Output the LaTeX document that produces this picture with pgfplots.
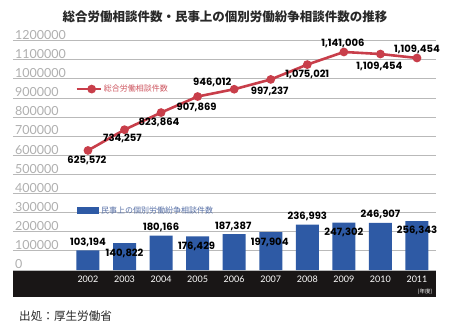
\documentclass[border=0pt]{standalone}
\usepackage{pgfplots}
\pgfplotsset{compat=1.18}
\usepackage{pgfplotstable}
\usepackage{fontspec}
\setmainfont{Lato}
\newfontfamily\jp{Noto Sans CJK JP}
\newfontfamily\pop{Poppins}
\newfontfamily\lat{Lato}
\definecolor{linered}{RGB}{200,62,74}
\definecolor{redtext}{RGB}{205,85,95}
\definecolor{barblue}{RGB}{46,90,165}
\definecolor{bluetext}{RGB}{85,110,165}
\definecolor{gridgray}{RGB}{185,185,185}
\definecolor{ticktext}{RGB}{175,175,175}
\definecolor{band}{RGB}{25,22,22}
\definecolor{titlegray}{RGB}{40,40,40}

\pgfplotstableread{
x y label dx dy
2002 625572 625,572 -1 -10
2003 734257 734,257 -2 -9
2004 823864 823,864 -2 -10
2005 907869 907,869 -1 -11
2006 946012 946,012 -22 7
2007 997237 997,237 -1 -12
2008 1075021 1,075,021 0 -10
2009 1141006 1,141,006 -1 9
2010 1130234 1,109,454 -1 -12
2011 1109454 1,109,454 0 9
}\linedata

\pgfplotstableread{
x y label dx dy
2002 103194 103,194 0 8
2003 140822 140,822 0 -10
2004 180166 180,166 0 8
2005 176429 176,429 -1 -10
2006 187387 187,387 -1 8
2007 197904 197,904 -1 -10
2008 236993 236,993 0 8
2009 247302 247,302 0 -10
2010 246907 246,907 0 8
2011 256343 256,343 0 -9
}\bardata

\begin{document}
\begin{tikzpicture}
\path (0,0) rectangle (450pt,330pt);
\fill[band] (13pt,33pt) rectangle (436pt,60pt);
\node[font=\jp\bfseries\fontsize{12.5}{12.5}\selectfont, text=titlegray] at (225pt,313pt) {総合労働相談件数・民事上の個別労働紛争相談件数の推移};
\node[anchor=west, font=\jp\fontsize{11.6}{11.6}\selectfont, text=titlegray, inner sep=0pt] at (19pt,14pt) {出処：厚生労働省};
\node[text=white, font=\jp\fontsize{5.5}{5.5}\selectfont] at (425pt,38pt) {(年度)};
\begin{axis}[
  at={(13pt,60pt)}, anchor=south west, scale only axis,
  width=423pt, height=229.3pt,
  xmin=1999.95, xmax=2011.52, ymin=0, ymax=1200000,
  clip=false,
  axis line style={draw=none},
  major tick length=0pt,
  ymajorgrids, grid style={gridgray, line width=0.9pt},
  ytick={0,100000,...,1200000},
  scaled y ticks=false,
  /pgf/number format/assume math mode=true,
  yticklabel style={/pgf/number format/1000 sep={}, /pgf/number format/fixed, anchor=south west, inner sep=0pt, xshift=2pt, yshift=1pt, text=ticktext, font=\lat\fontsize{12.5}{12.5}\selectfont},
  xtick={2002,2003,2004,2005,2006,2007,2008,2009,2010,2011},
  xticklabels={2002,2003,2004,2005,2006,2007,2008,2009,2010,2011},
  xticklabel style={text=white, font=\lat\fontsize{9}{9}\selectfont, yshift=-2pt},
  legend style={draw=none, fill=none, at={(0.151,0.26)}, anchor=west, inner sep=0pt, font=\jp\fontsize{8}{8}\selectfont, text=bluetext},
  legend image code/.code={\fill[barblue] (0pt,-3.65pt) rectangle (22pt,3.65pt);},
]
\addplot[ybar, bar width=23pt, fill=barblue, draw=none] table[x=x, y=y] {\bardata};
\addlegendentry{民事上の個別労働紛争相談件数}
\addplot[forget plot, draw=none, mark=none, nodes near coords, point meta=explicit symbolic,
  visualization depends on={\thisrow{dx} \as \dx},
  visualization depends on={\thisrow{dy} \as \dy},
  every node near coord/.append style={anchor=center, text=black, inner sep=0pt, font=\pop\bfseries\fontsize{10}{10}\selectfont, xshift=\dx, yshift=\dy}]
  table[x=x, y=y, meta=label] {\bardata};
\end{axis}
\begin{axis}[
  at={(13pt,60pt)}, anchor=south west, scale only axis,
  width=423pt, height=229.3pt,
  xmin=1999.95, xmax=2011.52, ymin=0, ymax=1200000,
  clip=false, hide axis,
  legend style={draw=none, fill=none, at={(0.147,0.789)}, anchor=west, inner sep=0pt, font=\jp\fontsize{8}{8}\selectfont, text=redtext},
  legend image code/.code={\draw[linered, line width=2.6pt] (0pt,0pt) -- (24pt,0pt); \fill[linered] (15pt,0pt) circle (3pt);},
]
\addplot[linered, line width=2.6pt, mark=*, mark size=3pt, nodes near coords, point meta=explicit symbolic,
  visualization depends on={\thisrow{dx} \as \dx},
  visualization depends on={\thisrow{dy} \as \dy},
  every node near coord/.append style={anchor=center, text=black, inner sep=0pt, font=\pop\bfseries\fontsize{10}{10}\selectfont, xshift=\dx, yshift=\dy}]
  table[x=x, y=y, meta=label] {\linedata};
\addlegendentry{総合労働相談件数}
\end{axis}
\end{tikzpicture}
\end{document}
